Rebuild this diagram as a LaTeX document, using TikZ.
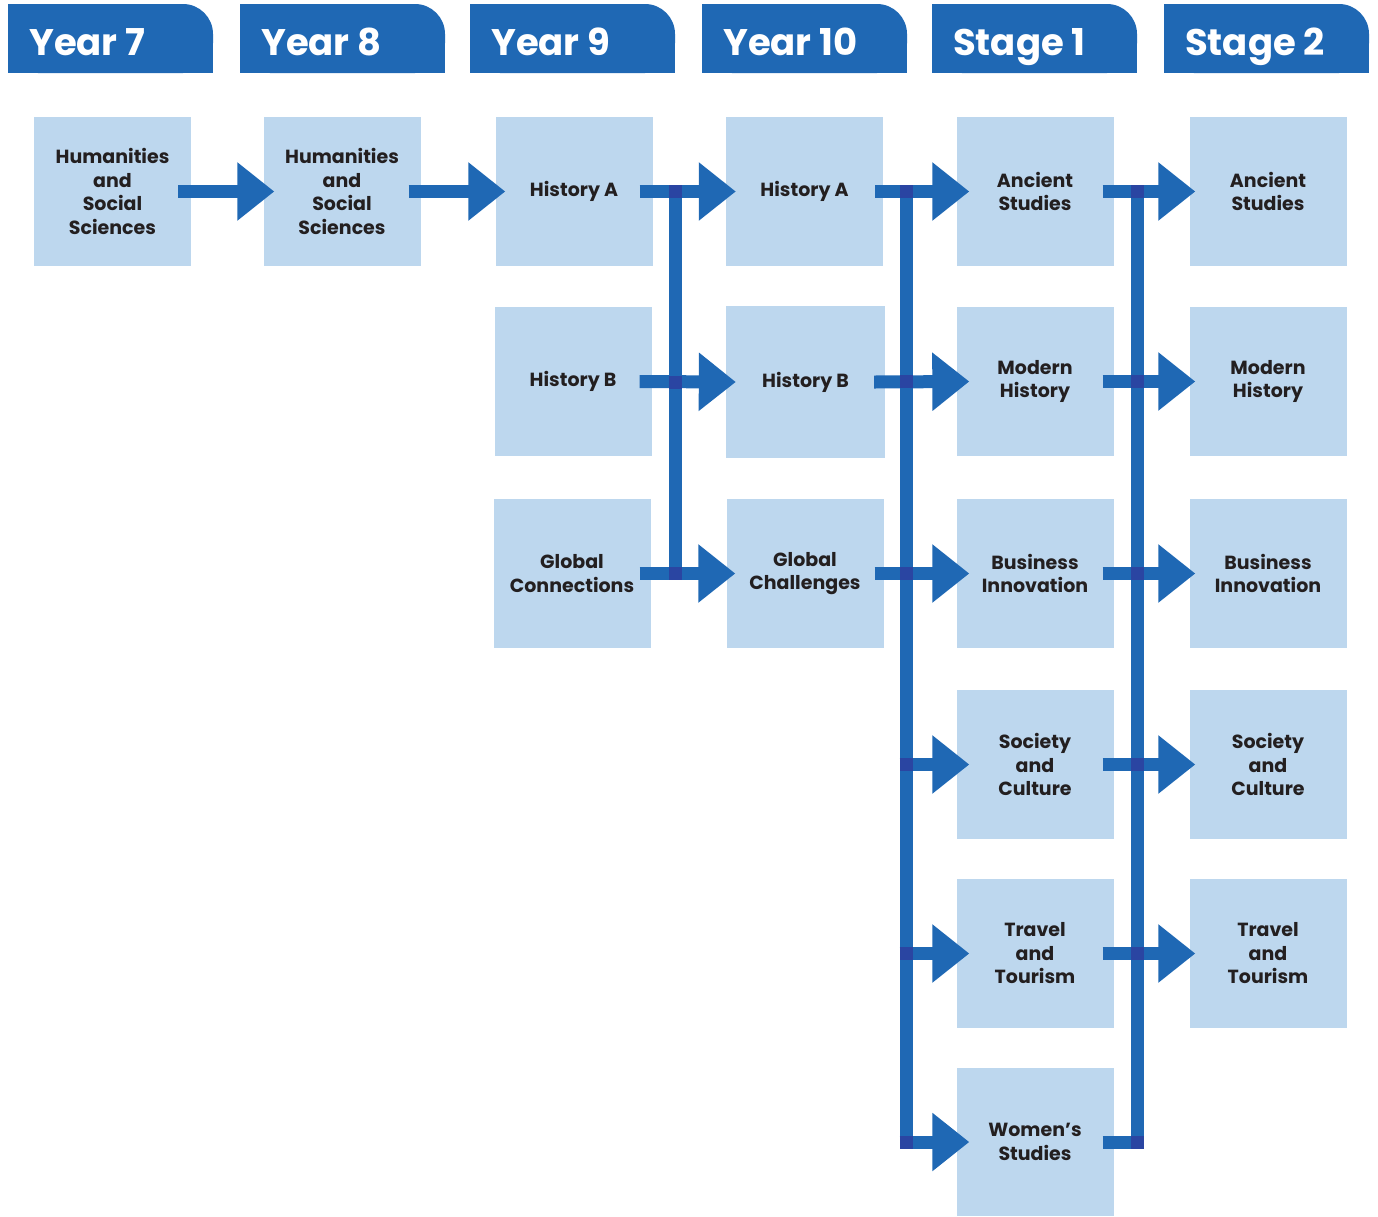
\documentclass[tikz,border=0pt]{standalone}
\usepackage{xcolor}
\usepackage{fontspec}
\setmainfont{Poppins}
\usepackage{tikz}
\usetikzlibrary{positioning}
\usetikzlibrary{arrows.meta}
\definecolor{tabblue}{HTML}{1F68B4}
\definecolor{boxblue}{HTML}{BDD7EE}
\definecolor{jointblue}{HTML}{2A45A2}
\definecolor{inkgrey}{HTML}{231F20}
\tikzset{flow/.style = {draw=tabblue, line width=13pt, -{Triangle[length=37pt,width=56pt]}}}

\begin{document}
\begin{tikzpicture}[x=1pt,y=-1pt,
    subject/.style={rectangle,fill=boxblue,minimum width=157pt,minimum height=149pt,inner sep=0pt,align=center,text=inkgrey,font=\fontsize{19}{23.5}\selectfont\bfseries},
    tabtext/.style={anchor=base west,inner sep=0pt,text=white,font=\fontsize{37}{40}\selectfont\bfseries},
    bar/.style={draw=tabblue,line width=13pt,line cap=rect},
    joint/.style={fill=jointblue}]
    \useasboundingbox (0,0) rectangle (1378,1216);

    % year tabs
    \foreach \x/\t [count=\i] in {8/Year 7,240/Year 8,470/Year 9,702/Year 10,932/Stage 1,1164/Stage 2} {
        \fill[tabblue,rounded corners=30pt] (\x,4) rectangle ++(205,69);
        \fill[tabblue] (\x,4) rectangle ++(150,69);
        \fill[tabblue] (\x,40) rectangle ++(205,33);
        \node[tabtext] (tab\i) at (\x+21,55) {\t};
    }

    % subjects
    \node[subject] (y7) at (112.5,191.5) {Humanities\\and\\Social\\Sciences};
    \node[subject] (y8) at (342,191.5) {Humanities\\and\\Social\\Sciences};
    \node[subject] (y9a) at (574,191.5) {History A};
    \node[subject] (y9b) at (573,381.5) {History B};
    \node[subject] (y9c) at (572,573.5) {Global\\Connections};
    \node[subject] (y10a) at (804.5,191.5) {History A};
    \node[subject,minimum width=159pt,minimum height=152pt] (y10b) at (805.5,382) {History B};
    \node[subject] (y10c) at (805,573.5) {Global\\Challenges};
    \node[subject] (s1a) at (1035,191.5) {Ancient\\Studies};
    \node[subject] (s1b) at (1035,381.5) {Modern\\History};
    \node[subject] (s1c) at (1035,573.5) {Business\\Innovation};
    \node[subject] (s1d) at (1035,764.5) {Society\\and\\Culture};
    \node[subject] (s1e) at (1035,953.5) {Travel\\and\\Tourism};
    \node[subject,minimum height=148pt] (s1f) at (1035,1142) {Women’s\\Studies};
    \node[subject] (s2a) at (1268,191.5) {Ancient\\Studies};
    \node[subject] (s2b) at (1268,381.5) {Modern\\History};
    \node[subject] (s2c) at (1268,573.5) {Business\\Innovation};
    \node[subject] (s2d) at (1268,764.5) {Society\\and\\Culture};
    \node[subject] (s2e) at (1268,953.5) {Travel\\and\\Tourism};

    % bar positions
    \coordinate (bar9) at (675,0);
    \coordinate (bar10) at (906,0);
    \coordinate (bar1) at (1137,0);
    \coordinate (j9a) at (bar9 |- y10a.west);
    \coordinate (j9b) at (bar9 |- y10b.west);
    \coordinate (j9c) at (bar9 |- y10c.west);
    \coordinate (j10a) at (bar10 |- s1a.west);
    \coordinate (j10b) at (bar10 |- s1b.west);
    \coordinate (j10c) at (bar10 |- s1c.west);
    \coordinate (j10d) at (bar10 |- s1d.west);
    \coordinate (j10e) at (bar10 |- s1e.west);
    \coordinate (j10f) at (bar10 |- s1f.west);
    \coordinate (j1a) at (bar1 |- s1a.west);
    \coordinate (j1b) at (bar1 |- s1b.west);
    \coordinate (j1c) at (bar1 |- s1c.west);
    \coordinate (j1d) at (bar1 |- s1d.west);
    \coordinate (j1e) at (bar1 |- s1e.west);
    \coordinate (j1f) at (bar1 |- s1f.west);

    % year 7 to year 9
    \draw[flow] ([xshift=-13pt]y7.east) -- ([xshift=11pt]y8.west);
    \draw[flow] ([xshift=-12pt]y8.east) -- ([xshift=10pt]y9a.west);

    % year 9 to year 10
    \draw[bar] (j9a) -- (j9c);
    \draw[flow] ([xshift=-13pt]y9a.east) -- ([xshift=10pt]y10a.west);
    \draw[flow] ([xshift=-12pt]y9b.east) -- ([xshift=10pt]y10b.west);
    \draw[flow] ([xshift=-11pt]y9c.east) -- ([xshift=9pt]y10c.west);

    % year 10 to stage 1
    \draw[bar] (j10a) -- (j10f);
    \draw[flow] ([xshift=-8pt]y10a.east) -- ([xshift=13pt]s1a.west);
    \draw[flow] ([xshift=-11pt]y10b.east) -- ([xshift=13pt]s1b.west);
    \draw[flow] ([xshift=-9pt]y10c.east) -- ([xshift=13pt]s1c.west);
    \draw[flow] ([xshift=-6.5pt]j10d) -- ([xshift=13pt]s1d.west);
    \draw[flow] ([xshift=-6.5pt]j10e) -- ([xshift=13pt]s1e.west);
    \draw[flow] ([xshift=-6.5pt]j10f) -- ([xshift=13pt]s1f.west);

    % stage 1 to stage 2
    \draw[bar] (j1a) -- (j1f);
    \draw[flow] ([xshift=-11pt]s1a.east) -- ([xshift=6pt]s2a.west);
    \draw[flow] ([xshift=-11pt]s1b.east) -- ([xshift=6pt]s2b.west);
    \draw[flow] ([xshift=-11pt]s1c.east) -- ([xshift=6pt]s2c.west);
    \draw[flow] ([xshift=-11pt]s1d.east) -- ([xshift=6pt]s2d.west);
    \draw[flow] ([xshift=-11pt]s1e.east) -- ([xshift=6pt]s2e.west);
    \draw[bar,line cap=butt] ([xshift=-11pt]s1f.east) -- (j1f);

    % crossings
    \foreach \j in {j9a,j9b,j9c,j10a,j10b,j10c,j10d,j10e,j10f,j1a,j1b,j1c,j1d,j1e,j1f}
        \fill[joint] ([shift={(-6.5pt,-6.5pt)}]\j) rectangle ++(13pt,13pt);
\end{tikzpicture}
\end{document}
